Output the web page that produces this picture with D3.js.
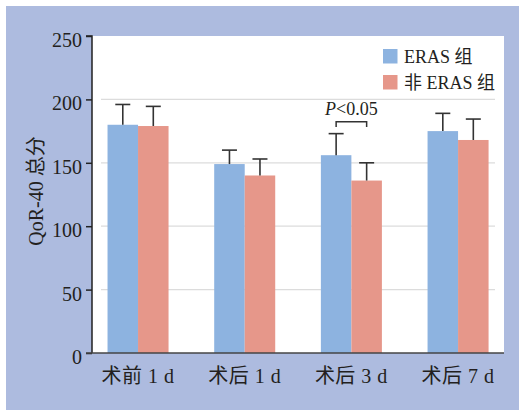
<!DOCTYPE html>
<html>
<head>
<meta charset="utf-8">
<script src="https://cdn.jsdelivr.net/npm/d3@7/dist/d3.min.js"></script>
<style>
  html, body { margin: 0; padding: 0; background: #ffffff; }
  svg { display: block; }
  text { fill: #231f20; }
</style>
</head>
<body>
<svg id="chart" width="520" height="412"></svg>
<script>
// QoR-40 total score by time point, mean ± SD
const categories = ["术前 1 d", "术后 1 d", "术后 3 d", "术后 7 d"];
const seriesNames = ["ERAS 组", "非 ERAS 组"];
const erasMean = [180, 149, 156, 175];
const erasSD = [16, 11, 17, 14];
const nonErasMean = [179, 140, 136, 168];
const nonErasSD = [15.5, 13, 14, 16.5];
const yTicks = [0, 50, 100, 150, 200, 250];
const sigGroup = "术后 3 d";
const sigLabel = "<0.05";

const colors = ["#8db3e0", "#e6978a"];
const serif = "'Liberation Serif', 'Times New Roman', 'Noto Sans CJK SC', serif";

const svg = d3.select("#chart");

// framed background and white plotting panel
svg.append("rect").attr("x", 6).attr("y", 6).attr("width", 513).attr("height", 404)
  .attr("fill", "#adbbdf");
const panel = { left: 92, right: 504, top: 36, bottom: 353 };
svg.append("rect").attr("x", panel.left).attr("y", panel.top)
  .attr("width", panel.right - panel.left).attr("height", panel.bottom - panel.top)
  .attr("fill", "#ffffff");

const y = d3.scaleLinear().domain([0, 250]).range([panel.bottom, panel.top]);
const x0 = d3.scaleBand().domain(categories).range([84.7, 511.4])
  .paddingInner(0.428).paddingOuter(0.214);
const x1 = d3.scaleBand().domain(seriesNames).range([0, x0.bandwidth()]);

// gridlines
svg.append("g").selectAll("line")
  .data(yTicks.filter(t => t > 0 && t < 250))
  .join("line")
  .attr("x1", 101).attr("x2", 495)
  .attr("y1", d => y(d)).attr("y2", d => y(d))
  .attr("stroke", "#dcdcdc").attr("stroke-width", 1.2);

// bars
const rows = categories.map((c, i) => ({
  cat: c,
  vals: [
    { s: seriesNames[0], m: erasMean[i], sd: erasSD[i], c: colors[0] },
    { s: seriesNames[1], m: nonErasMean[i], sd: nonErasSD[i], c: colors[1] }
  ]
}));

const groups = svg.append("g").selectAll("g").data(rows).join("g")
  .attr("transform", d => `translate(${x0(d.cat)},0)`);

groups.selectAll("rect").data(d => d.vals).join("rect")
  .attr("x", d => x1(d.s)).attr("width", x1.bandwidth())
  .attr("y", d => y(d.m)).attr("height", d => y(0) - y(d.m))
  .attr("fill", d => d.c);

// error bars (upper whisker only)
const err = groups.selectAll("g.err").data(d => d.vals).join("g").attr("class", "err");
err.append("line")
  .attr("x1", d => x1(d.s) + x1.bandwidth() / 2).attr("x2", d => x1(d.s) + x1.bandwidth() / 2)
  .attr("y1", d => y(d.m)).attr("y2", d => y(d.m + d.sd))
  .attr("stroke", "#333").attr("stroke-width", 1.6);
err.append("line")
  .attr("x1", d => x1(d.s) + x1.bandwidth() / 2 - 7.5).attr("x2", d => x1(d.s) + x1.bandwidth() / 2 + 7.5)
  .attr("y1", d => y(d.m + d.sd)).attr("y2", d => y(d.m + d.sd))
  .attr("stroke", "#333").attr("stroke-width", 1.6);

// y axis
const yAxis = d3.axisLeft(y).tickValues(yTicks).tickSize(6).tickPadding(5);
const gy = svg.append("g").attr("transform", `translate(${panel.left},0)`).call(yAxis);
gy.select(".domain").attr("stroke", "#222").attr("stroke-width", 1.5)
  .attr("d", `M-6,${panel.top}H0V${panel.bottom}`);
gy.selectAll(".tick line").attr("stroke", "#222").attr("stroke-width", 1.5);
gy.selectAll(".tick text").attr("font-family", serif).attr("font-size", 20)
  .attr("fill", "#231f20").attr("dy", "0.52em").attr("x", -10);

// x axis
svg.append("line").attr("x1", 86).attr("x2", panel.right)
  .attr("y1", panel.bottom).attr("y2", panel.bottom)
  .attr("stroke", "#444").attr("stroke-width", 1.5);
svg.append("g").selectAll("text").data(categories).join("text")
  .attr("x", d => x0(d) + x0.bandwidth() / 2).attr("y", 383)
  .attr("text-anchor", "middle").attr("font-family", serif).attr("font-size", 20)
  .attr("letter-spacing", 0.5)
  .text(d => d);

// y axis title
svg.append("text")
  .attr("transform", "translate(43,191) rotate(-90)")
  .attr("text-anchor", "middle").attr("font-family", serif).attr("font-size", 20)
  .text("QoR-40 总分");

// significance bracket
const bx1 = x0(sigGroup) + x1(seriesNames[0]) + x1.bandwidth() / 2;
const bx2 = x0(sigGroup) + x1(seriesNames[1]) + x1.bandwidth() / 2;
svg.append("path")
  .attr("d", `M${bx1},127V121.7H${bx2}V127`)
  .attr("fill", "none").attr("stroke", "#333").attr("stroke-width", 1.5);
const pt = svg.append("text").attr("x", (bx1 + bx2) / 2).attr("y", 115)
  .attr("text-anchor", "middle").attr("font-family", serif).attr("font-size", 18);
pt.append("tspan").attr("font-style", "italic").text("P");
pt.append("tspan").text(sigLabel);

// legend
const legend = svg.append("g").attr("transform", "translate(383,49)");
const li = legend.selectAll("g").data(seriesNames).join("g")
  .attr("transform", (d, i) => `translate(0,${i * 26})`);
li.append("rect").attr("width", 14.5).attr("height", 14.5).attr("fill", (d, i) => colors[i]);
li.append("text").attr("x", 21).attr("y", 14).attr("font-family", serif).attr("font-size", 18)
  .text(d => d);
</script>
</body>
</html>
